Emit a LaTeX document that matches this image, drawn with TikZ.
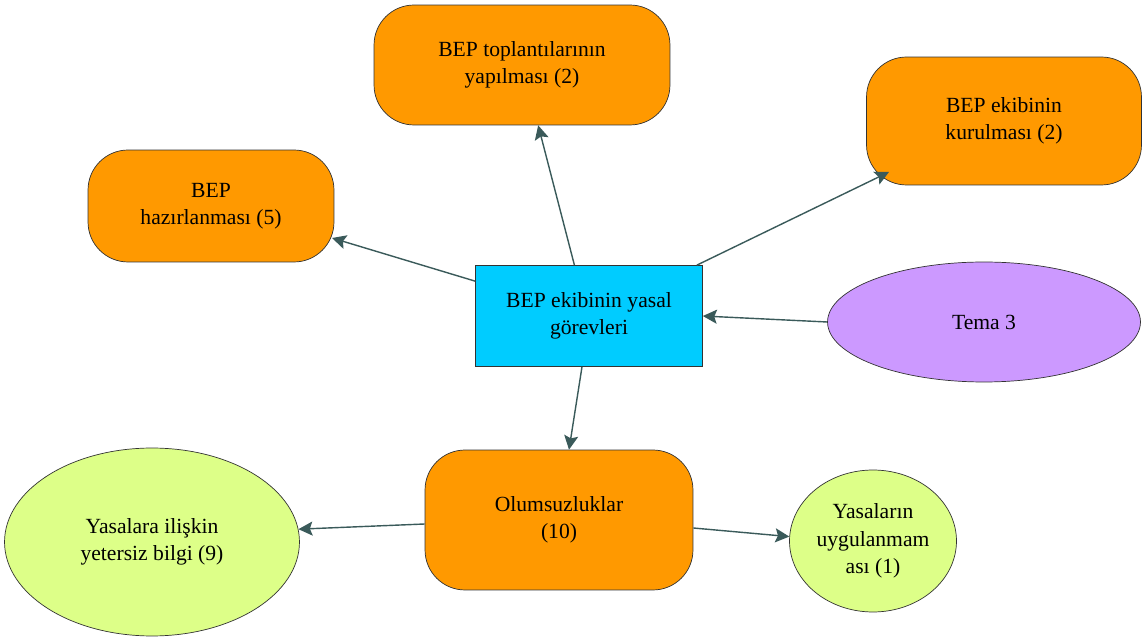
\documentclass[tikz,border=0pt]{standalone}
\usepackage{fontspec}
\setmainfont{Liberation Serif}
\newfontfamily\timesfont{Liberation Serif}
\usepackage{tikz}
\usetikzlibrary{arrows.meta,shapes.geometric,calc}

\definecolor{orangeb}{HTML}{FF9900}
\definecolor{cyanb}{HTML}{00CCFF}
\definecolor{lilac}{HTML}{CC99FF}
\definecolor{limeb}{HTML}{DDFF88}
\definecolor{arrowc}{HTML}{3A5A5A}

\begin{document}
\begin{tikzpicture}[x=0.02cm,y=-0.02cm]
	\tikzstyle{every node}+=[inner sep=0pt,align=center,font=\timesfont\fontsize{12.3}{15.5}\selectfont]
	\tikzstyle{roundbox}=[draw=black!80,fill=orangeb,rounded corners=0.8cm,thin]
	\tikzstyle{mainbox}=[draw=black!80,fill=cyanb,thin]
	\tikzstyle{oval}=[draw=black!80,ellipse,thin]
	\tikzstyle{link}=[draw=arrowc,thick,-{Stealth[length=8pt,width=8pt,inset=1.5pt]}]
	\useasboundingbox (0,0) rectangle (1143,641);
	\node [mainbox,minimum width=4.54cm,minimum height=2.02cm] (gorev) at (589,316) {BEP ekibinin yasal\\g\"orevleri};
	\node [roundbox,minimum width=5.92cm,minimum height=2.4cm] (toplanti) at (522,65) {BEP toplant\i{}lar\i{}n\i{}n\\yap\i{}lmas\i{} (2)};
	\node [roundbox,minimum width=5.5cm,minimum height=2.56cm] (kurulma) at (1004,121) {BEP ekibinin\\kurulmas\i{} (2)};
	\node [roundbox,minimum width=4.92cm,minimum height=2.24cm] (hazir) at (211,206) {BEP\\haz\i{}rlanmas\i{} (5)};
	\node [oval,fill=lilac,minimum width=6.26cm,minimum height=2.4cm] (tema) at (984,322) {Tema 3};
	\node [roundbox,minimum width=5.36cm,minimum height=2.8cm] (olumsuz) at (559,520) {Olumsuzluklar\\(10)};
	\node [oval,fill=limeb,minimum width=5.9cm,minimum height=3.76cm] (bilgi) at (152,542) {Yasalara ili\c{s}kin\\yetersiz bilgi (9)};
	\node [oval,fill=limeb,minimum width=3.34cm,minimum height=2.84cm] (uygulama) at (873,541) {Yasalar\i{}n\\uygulanmam\\as\i{} (1)};
	% arrows
	\draw [link] (gorev.106) -- (toplanti.-75);
	\draw [link] ($(gorev.north east)+(-6,0)$) -- ($(kurulma)+(-115,51)$);
	\draw [link] ($(gorev.north west)+(0,16)$) -- ($(hazir)+(121,32)$);
	\draw [link] (tema.west) -- (gorev.east);
	\draw [link] ($(gorev.south)+(-7,0)$) -- ($(olumsuz.north)+(10,0)$);
	\draw [link] ($(olumsuz.west)+(0,4)$) -- (bilgi.5);
	\draw [link] ($(olumsuz.east)+(0,8)$) -- (uygulama.177);
\end{tikzpicture}
\end{document}
